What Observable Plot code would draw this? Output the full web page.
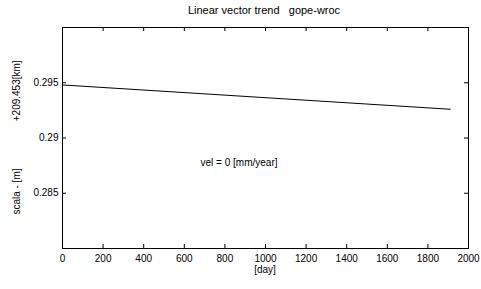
<!DOCTYPE html>
<html>
<head>
<meta charset="utf-8">
<script src="https://cdn.jsdelivr.net/npm/d3@7"></script>
<script src="https://cdn.jsdelivr.net/npm/@observablehq/plot@0.6"></script>
<style>
  html, body { margin: 0; padding: 0; background: #fff; }
  #chart { position: relative; width: 481px; height: 289px; font-family: "Liberation Sans", Arial, sans-serif; }
  #title { position: absolute; left: 0; top: 4px; width: 528px; text-align: center; font-size: 11px; color: #000; }
  svg { display: block; }
</style>
</head>
<body>
<div id="chart"><div id="title">Linear vector trend&nbsp;&nbsp;&nbsp;gope-wroc</div></div>
<script>
const days = [0, 1910];
const values = [0.2948, 0.2926];
const xTicks = [0, 200, 400, 600, 800, 1000, 1200, 1400, 1600, 1800, 2000];
const yTicks = [0.285, 0.29, 0.295];
const yTickLabels = ["0.285", "0.29", "0.295"];
const annotation = "vel = 0 [mm/year]";
const xLabel = "[day]";
const yLabel = "scala - [m]                 +209.453[km]";

const xDomain = [0, 2000];
const yDomain = [0.28, 0.30];
const W = 481, H = 289, mL = 62, mR = 13, mT = 27, mB = 41;
const tx = (xDomain[1] - xDomain[0]) * 4 / (W - mL - mR);
const ty = (yDomain[1] - yDomain[0]) * 4 / (H - mT - mB);

const series = days.map((d, i) => ({day: d, value: values[i]}));

const chart = Plot.plot({
  width: W, height: H,
  marginLeft: mL, marginRight: mR, marginTop: mT, marginBottom: mB,
  style: {fontFamily: "Liberation Sans, Arial, sans-serif", fontSize: "10px", background: "#fff"},
  x: {domain: xDomain},
  y: {domain: yDomain},
  marks: [
    Plot.frame({stroke: "#000", strokeWidth: 1}),
    Plot.ruleX(xTicks, {x: d => d, y1: yDomain[0], y2: yDomain[0] + ty, stroke: "#000"}),
    Plot.ruleX(xTicks, {x: d => d, y1: yDomain[1], y2: yDomain[1] - ty, stroke: "#000"}),
    Plot.ruleY(yTicks, {y: d => d, x1: xDomain[0], x2: xDomain[0] + tx, stroke: "#000"}),
    Plot.ruleY(yTicks, {y: d => d, x1: xDomain[1], x2: xDomain[1] - tx, stroke: "#000"}),
    Plot.axisX({ticks: xTicks, tickSize: 0, tickPadding: 6, label: null, tickFormat: d => String(d), fontSize: 10}),
    Plot.axisY({ticks: yTicks, tickSize: 0, tickPadding: 4, label: null, tickFormat: (d, i) => yTickLabels[i], fontSize: 10}),
    Plot.line(series, {x: "day", y: "value", stroke: "#000", strokeWidth: 1}),
    Plot.text([annotation], {x: 680, y: 0.2878, text: d => d, textAnchor: "start", fontSize: 10, fill: "#000"})
  ]
});
document.getElementById("chart").appendChild(chart);

const svg = d3.select(chart);
svg.append("text")
  .attr("x", mL + (W - mL - mR) / 2).attr("y", 273)
  .attr("text-anchor", "middle").attr("font-size", 10).attr("fill", "#000")
  .text(xLabel);
svg.append("text")
  .attr("transform", `translate(20,${mT + (H - mT - mB) / 2}) rotate(-90)`)
  .attr("text-anchor", "middle").attr("font-size", 10).attr("fill", "#000")
  .style("white-space", "pre")
  .text(yLabel);
</script>
</body>
</html>
